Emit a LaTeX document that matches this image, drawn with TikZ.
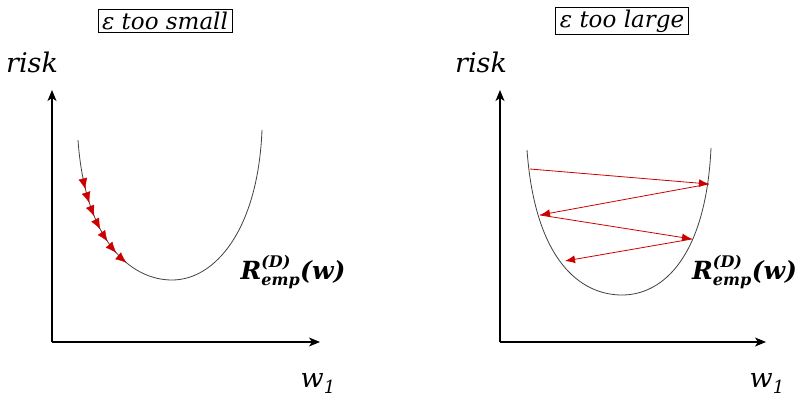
\documentclass[tikz,border=0pt]{standalone}
\usepackage{fontspec}
\setmainfont{DejaVu Serif}
\usetikzlibrary{arrows.meta,decorations.markings}
\begin{document}
\begin{tikzpicture}[x=1pt,y=-1pt,
  axis/.style={draw=black, line width=1.2pt, -{Stealth[length=11pt,width=9pt,inset=3pt]}},
  curve/.style={draw=black!75, line width=0.8pt},
  redarrow/.style={draw=red!80!black, line width=0.8pt, -{Latex[length=10pt,width=8pt]}},
  titlebox/.style={draw, line width=0.9pt, inner xsep=4pt, inner ysep=2.5pt, font=\itshape\fontsize{23}{26}\selectfont},
  lbl/.style={font=\itshape\fontsize{27}{30}\selectfont, inner sep=0pt},
  rlbl/.style={font=\bfseries\itshape\fontsize{25}{28}\selectfont, inner sep=0pt}]
\useasboundingbox (0,0) rectangle (805,401);
\clip (0,0) rectangle (805,401);
\newcommand{\remp}{\hbox{R}^{\hbox{\fontsize{16}{16}\selectfont(D)}}_{\hbox{\fontsize{16}{16}\selectfont emp}}\hbox{(w)}}
\newcommand{\wone}{w\raisebox{-6pt}{\fontsize{18}{18}\selectfont 1}}

% ---------- left panel ----------
\node[titlebox] (t1) at (165,21) {ε too small};
\node[lbl] (r1) at (32,62) {risk};
\node[lbl] (w1) at (318,383) {\wone};
\coordinate (o1) at (52,342);
\coordinate (ya) at (52,90);
\coordinate (xa) at (320,342);
\draw[axis] (o1) -- (ya);
\draw[axis] (o1) -- (xa);
\draw[curve] (78,140) .. controls (85,240) and (130,280) .. (172,280)
             .. controls (215,280) and (258,230) .. (262,130);
\path[postaction={decorate}, decoration={markings,
   mark=between positions 0.27 and 0.74 step 0.077 with
   {\arrow[red!80!black]{Latex[length=11pt,width=9pt]}}}]
   (78,140) .. controls (85,240) and (130,280) .. (172,280);
\node[rlbl] (e1) at (293,272) {$\remp$};

% ---------- right panel ----------
\node[titlebox] (t2) at (622,21) {ε too large};
\node[lbl] (r2) at (481,62) {risk};
\node[lbl] (w2) at (767,383) {\wone};
\coordinate (o2) at (500,342);
\coordinate (yb) at (500,90);
\coordinate (xb) at (766,342);
\draw[axis] (o2) -- (yb);
\draw[axis] (o2) -- (xb);
\draw[curve] (527,150) .. controls (535,260) and (580,295) .. (622,295)
             .. controls (664,295) and (706,255) .. (711,148);
\coordinate (p0) at (530,169);
\coordinate (p1) at (709,184);
\coordinate (p2) at (540,215);
\coordinate (p3) at (692,239);
\coordinate (p4) at (565,261);
\draw[redarrow] (p0) -- (p1);
\draw[redarrow] (p1) -- (p2);
\draw[redarrow] (p2) -- (p3);
\draw[redarrow] (p3) -- (p4);
\node[rlbl, anchor=west] (e2) at (692,272) {$\remp$};
\end{tikzpicture}
\end{document}
